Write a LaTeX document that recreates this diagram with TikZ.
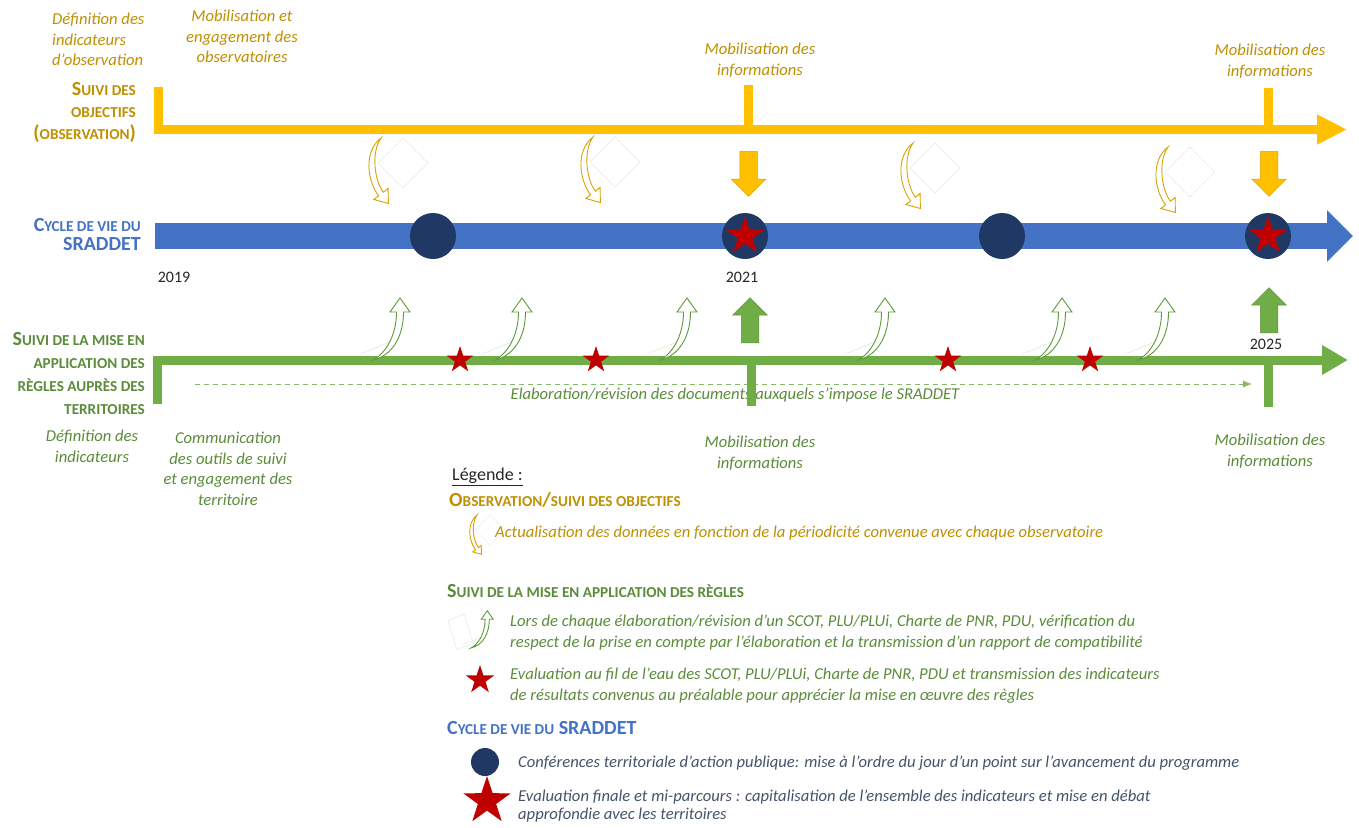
\documentclass[tikz,border=0pt]{standalone}
\usepackage{fontspec}
\setmainfont{Carlito}
\usetikzlibrary{arrows.meta,shapes.geometric,shapes.arrows}

\definecolor{jaune}{HTML}{FFC000}
\definecolor{jauneTrait}{HTML}{D9A300}
\definecolor{jauneTexte}{HTML}{BF9000}
\definecolor{bleu}{HTML}{4472C4}
\definecolor{marine}{HTML}{203864}
\definecolor{vert}{HTML}{70AD47}
\definecolor{vertTrait}{HTML}{5E9A3A}
\definecolor{vertTexte}{HTML}{5B8C3A}
\definecolor{rouge}{HTML}{C00000}
\definecolor{ardoise}{HTML}{44546A}

\newcommand\petit[1]{{\fontsize{15.2}{\baselineskip}\selectfont #1}}

\tikzset{
  majfleche/.pic={
    \draw[black!9] (22,0) -- (47,25) -- (22,50) -- (-3,25) -- cycle;
    \draw[jauneTrait, fill=white, line width=0.9pt] (0,0) .. controls (-18,14) and (-13.4,43.6) .. (-2.4,57.8) -- (-7.1,61.5) -- (7.4,65.5) -- (7.1,50.5) -- (2.4,54.2) .. controls (-6.8,42.4) and (-10,14) .. cycle;
  },
  reglefleche/.pic={
    \draw[vert!30] (-13,-6) -- (17,-18);
    \draw[vertTrait, fill=white, line width=0.9pt] (0,0) .. controls (18,-4) and (30.5,-22) .. (30.5,-48) -- (37,-48) -- (27,-62) -- (17,-48) -- (23.5,-48) .. controls (23.5,-24) and (12,-6) .. cycle;
  }
}

\begin{document}
\begin{tikzpicture}[x=1pt,y=-1pt,
  txt/.style={font=\fontsize{16.6}{20.5}\selectfont\itshape, inner sep=0pt},
  titre/.style={font=\fontsize{20}{#1}\selectfont\bfseries, inner sep=0pt},
  annee/.style={font=\fontsize{16}{18}\selectfont, inner sep=0pt, text=black!85},
  pastille/.style={circle, fill=marine, inner sep=0pt, minimum size=#1},
  etoile/.style={star, star points=5, star point ratio=2.6, fill=rouge, inner sep=0pt, minimum size=#1},
  bloc/.style={single arrow, fill=#1, draw=#1!85!black, line width=0.5pt, inner xsep=0pt, inner ysep=8.5pt, single arrow head extend=8.5pt, minimum height=45pt, anchor=tail}]
\fill[white] (0,0) rectangle (1359,827);
\useasboundingbox (0,0) rectangle (1359,827);

\coordinate (obsHaut) at (158.5,87);
\coordinate (obsCoin) at (158.5,129.5);
\coordinate (obsFin) at (1347,129.5);
\draw[jaune, line width=9pt, -{Triangle[length=30pt,width=28pt]}] (obsHaut) -- (obsCoin) -- (obsFin);
\draw[jaune, line width=9pt] (748,85) -- (748,129.5);
\draw[jaune, line width=9pt] (1268,88) -- (1268,129.5);

\coordinate (cycleDebut) at (155,236);
\coordinate (cycleFin) at (1353,236);
\draw[bleu, line width=26pt, -{Triangle[length=26pt,width=50pt]}] (cycleDebut) -- (cycleFin);

\coordinate (elabDebut) at (195,384);
\coordinate (elabFin) at (1252,384);
\draw[vert!85, line width=1pt, dash pattern=on 5pt off 4pt, -{Latex[length=9pt,width=7pt]}] (elabDebut) -- (elabFin);
\node[txt, vertTexte] (elab) at (735,395) {Elaboration/révision des documents auxquels s’impose le SRADDET};

\coordinate (regleBas) at (157.5,404);
\coordinate (regleCoin) at (157.5,360);
\coordinate (regleFin) at (1348,360);
\draw[vert, line width=9pt, -{Triangle[length=26pt,width=28pt]}] (regleBas) -- (regleCoin) -- (regleFin);
\draw[vert, line width=9pt] (751,360) -- (751,406);
\draw[vert, line width=9pt] (1268,360) -- (1268,407);

\node[bloc=jaune, rotate=-90] (versCycleA) at (748.5,151) {};
\node[bloc=jaune, rotate=-90] (versCycleB) at (1269,151) {};
\node[bloc=vert, rotate=90] (versCycleC) at (750,343) {};
\node[bloc=vert, rotate=90] (versCycleD) at (1269,333) {};

\foreach \x/\y in {381/138,593/137,913/143,1168/147}
  \pic at (\x,\y) {majfleche};
\foreach \x in {373,495,660,858,1035,1138}
  \pic at (\x,360) {reglefleche};

\foreach \x/\n in {433/1,745/2,1002/3,1268/4}
  \node[pastille=46pt] (ctap\n) at (\x,236) {};
\node[etoile=40pt] (evalMi) at (ctap2) {};
\node[etoile=40pt] (evalFin) at (ctap4) {};
\foreach \x/\n in {460/1,596/2,948/3,1090/4}
  \node[etoile=28pt] (evalDoc\n) at (\x,360) {};

\node[annee] (an2019) at (174,277) {2019};
\node[annee] (an2021) at (742,277) {2021};
\node[annee] (an2025) at (1266,344) {2025};

\node[txt, jauneTexte, align=left, anchor=north west] (defObs) at (52,13) {Définition des\\indicateurs\\d’observation};
\node[txt, jauneTexte, align=center, anchor=north] (mobObs) at (242,10) {Mobilisation et\\engagement des\\observatoires};
\node[txt, jauneTexte, align=center, anchor=north] (mobInfoA) at (760,43) {Mobilisation des\\informations};
\node[txt, jauneTexte, align=center, anchor=north] (mobInfoB) at (1270,44) {Mobilisation des\\informations};
\node[titre=22, jauneTexte, align=right, anchor=north east] (titreObs) at (136,82) {S\petit{UIVI DES}\\\petit{OBJECTIFS}\\(\petit{OBSERVATION})};
\node[titre=19, bleu, align=right, anchor=north east] (titreCycle) at (141,218) {C\petit{YCLE DE VIE DU}\\SRADDET};
\node[titre=23, vertTexte, align=right, anchor=north east] (titreRegle) at (145,332) {S\petit{UIVI DE LA MISE EN}\\\petit{APPLICATION DES}\\\petit{RÈGLES AUPRÈS DES}\\\petit{TERRITOIRES}};
\node[txt, vertTexte, align=center, anchor=north] (defInd) at (92,430) {Définition des\\indicateurs};
\node[txt, vertTexte, align=center, anchor=north] (comm) at (228,432) {Communication\\des outils de suivi\\et engagement des\\territoire};
\node[txt, vertTexte, align=center, anchor=north] (mobInfoC) at (760,436) {Mobilisation des\\informations};
\node[txt, vertTexte, align=center, anchor=north] (mobInfoD) at (1270,434) {Mobilisation des\\informations};

\node[anchor=west, inner sep=0pt, font=\fontsize{18}{20}\selectfont, text=black!85] (legende) at (452,477) {\underline{Légende :}};
\node[titre=18, jauneTexte, anchor=west] (legObs) at (449,500) {O\petit{BSERVATION}/\petit{SUIVI DES OBJECTIFS}};
\pic[scale=0.6] at (477,515) {majfleche};
\node[txt, jauneTexte, anchor=west] (legMaj) at (495,533) {Actualisation des données en fonction de la périodicité convenue avec chaque observatoire};
\node[titre=18, vertTexte, anchor=west] (legRegle) at (447,591) {S\petit{UIVI DE LA MISE EN APPLICATION DES RÈGLES}};
\draw[vert!25] (448,621) -- (464,614) -- (473,643) -- (457,650) -- cycle;
\pic[scale=0.6] at (471,648) {reglefleche};
\node[txt, vertTexte, align=left, anchor=north west] (legElab) at (510,615) {Lors de chaque élaboration/révision d’un SCOT, PLU/PLUi, Charte de PNR, PDU, vérification du\\respect de la prise en compte par l’élaboration et la transmission d’un rapport de compatibilité};
\node[etoile=30pt] (legEtoile) at (480,680) {};
\node[txt, vertTexte, align=left, anchor=north west] (legEval) at (510,668) {Evaluation au fil de l’eau des SCOT, PLU/PLUi, Charte de PNR, PDU et transmission des indicateurs\\de résultats convenus au préalable pour apprécier la mise en œuvre des règles};
\node[titre=18, bleu, anchor=west] (legCycle) at (447,728) {C\petit{YCLE DE VIE DU} SRADDET};
\node[pastille=28pt] (legPastille) at (485,762) {};
\node[txt, ardoise, anchor=west] (legCtap) at (518,763) {Conférences territoriale d’action publique: mise à l’ordre du jour d’un point sur l’avancement du programme};
\node[etoile=50pt] (legGrande) at (487,801) {};
\node[txt, ardoise, align=left, anchor=north west, font=\fontsize{16.6}{17.5}\selectfont\itshape] (legFinale) at (518,790) {Evaluation finale et mi-parcours : capitalisation de l’ensemble des indicateurs et mise en débat\\approfondie avec les territoires};
\end{tikzpicture}
\end{document}
